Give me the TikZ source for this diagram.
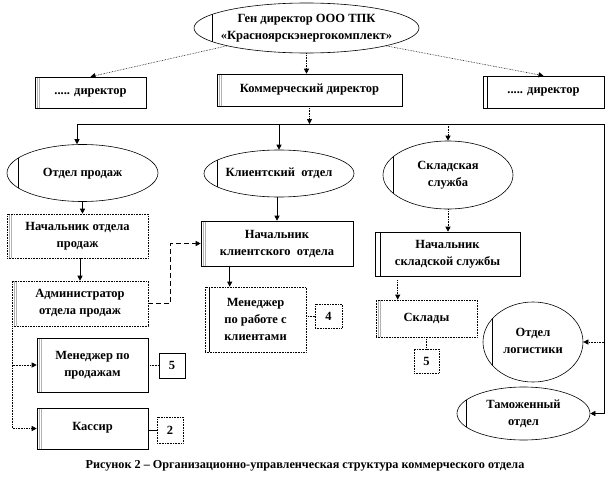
\documentclass[tikz,border=0pt]{standalone}
\usepackage{fontspec}
\setmainfont{Liberation Serif}
\usetikzlibrary{shapes.geometric,arrows.meta,calc}
\newcommand{\ctxt}[1]{\makebox[0pt]{\begin{tabular}{@{}c@{}}#1\end{tabular}}}
\begin{document}
\begin{tikzpicture}[x=1pt,y=-1pt,
  font=\fontsize{12.5}{17}\selectfont\bfseries,
  ln/.style={line width=0.6pt},
  arr/.style={ln,-{Triangle[length=5pt,width=5pt]}},
  dot/.style={densely dotted},
  box/.style={draw, line width=0.6pt, rectangle, inner sep=1pt, align=center},
  dbox/.style={box, densely dotted},
  bars/.style={path picture={\draw[solid, gray!60, line width=0.8pt]
     ([xshift=2.5pt]path picture bounding box.north west) -- ([xshift=2.5pt]path picture bounding box.south west)
     ([xshift=4.8pt]path picture bounding box.north west) -- ([xshift=4.8pt]path picture bounding box.south west);}},
  sbar/.style={path picture={\draw[solid, black, line width=0.7pt]
     ([xshift=#1]path picture bounding box.north west) -- ([xshift=#1]path picture bounding box.south west);}},
  el/.style={draw, ellipse, line width=0.6pt, inner sep=0pt},
  elbar/.style={path picture={\draw[solid, black, line width=0.7pt]
     ([xshift=#1]path picture bounding box.north west) -- ([xshift=#1]path picture bounding box.south west);}}
]
\fill[white] (0,0) rectangle (611,479);
\useasboundingbox (0,0) rectangle (611,479);

% top
\node[el, elbar=18pt, minimum width=225pt, minimum height=50pt] (gen) at (306.5,28) {\ctxt{Ген директор ООО ТПК\\«Красноярскэнергокомплект»}};
\node[box, bars, minimum width=111pt, minimum height=31pt] (d1) at (90.5,92.5) {..... директор};
\node[box, bars, minimum width=185pt, minimum height=32pt] (komm) at (309.5,90) {Коммерческий директор};
\node[box, sbar=4pt, minimum width=121pt, minimum height=32pt] (d2) at (543.5,92) {..... директор};

% departments
\node[el, elbar=11pt, minimum width=151pt, minimum height=57pt] (op) at (82.5,173) {\ctxt{Отдел продаж}};
\node[el, elbar=13pt, minimum width=150pt, minimum height=47pt] (ko) at (279,173.5) {\ctxt{Клиентский\ \ отдел}};
\node[el, elbar=10pt, minimum width=130pt, minimum height=68pt] (ss) at (448,175) {\ctxt{Складская\\служба}};

% boxes
\node[dbox, bars, minimum width=141pt, minimum height=44pt] (nop) at (77.5,236) {Начальник отдела\\продаж};
\node[dbox, bars, minimum width=136pt, minimum height=45pt] (adm) at (80,303.5) {Администратор\\отдела продаж};
\node[box, bars, minimum width=152pt, minimum height=45pt] (nko) at (277,243.5) {Начальник\\клиентского\ \ отдела};
\node[dbox, sbar=4pt, minimum width=101pt, minimum height=65pt] (mrk) at (255.5,319.5) {Менеджер\\по работе с\\клиентами};
\node[dbox, minimum width=27pt, minimum height=24pt] (b4) at (328.5,316) {4};
\node[box, sbar=5pt, minimum width=145pt, minimum height=44pt] (nss) at (447.5,254) {Начальник\\складской службы};
\node[dbox, bars, minimum width=101pt, minimum height=37pt] (skl) at (426.5,318.5) {Склады};
\node[dbox, minimum width=25pt, minimum height=24pt] (b5b) at (426.5,361) {5};
\node[el, elbar=9pt, minimum width=100pt, minimum height=80pt] (log) at (533,342) {\ctxt{Отдел\\логистики}};
\node[el, elbar=9pt, minimum width=133pt, minimum height=53pt] (tam) at (523.5,413.5) {\ctxt{Таможенный\\отдел}};
\node[box, bars, minimum width=111pt, minimum height=54pt] (mpp) at (92.5,365) {Менеджер по\\продажам};
\node[box, minimum width=26pt, minimum height=25pt] (b5a) at (172,365.5) {5};
\node[box, bars, minimum width=111pt, minimum height=41pt] (kas) at (92.5,428.5) {\raisebox{4pt}{Кассир}};
\node[dbox, minimum width=26pt, minimum height=26pt] (b2) at (170,430) {2};

\node[font=\fontsize{12.2}{14}\selectfont\bfseries] (cap) at (305,466) {Рисунок 2 – Организационно-управленческая структура коммерческого отдела};

% connectors
\coordinate (hl) at (77,124);
\coordinate (hr) at (604,124);
\draw[arr,dot] (gen.south west) -- (d1.north);
\draw[arr,dot] (gen.south east) -- (d2.north);
\draw[arr,dot] (gen.south) -- (gen.south |- komm.north);
\draw[arr,dot] (komm.south) -- (komm.south |- hl);
\draw[arr] (hl) -- (hr) |- (tam.east);
\draw[arr,dot] (log.east -| hr) -- (log.east);
\draw[arr] (hl) -- (hl |- op.north);
\draw[arr] (ko.north |- hl) -- (ko.north);
\draw[arr,dot] (ss.north |- hl) -- (ss.north);
\draw[arr] (op.south) -- (op.south |- nop.north);
\draw[arr] (adm.north |- nop.south) -- (adm.north);
\draw[arr,dash pattern=on 5pt off 3pt] (adm.east) -- ++(22,0) |- (nko.west);
\draw[arr] (nko.north |- ko.south) -- (nko.north);
\coordinate (mt) at ($(mrk.north west)+(25,0)$);
\draw[arr] (mt |- nko.south) -- (mt);
\draw[ln,dot] (b4.west -| mrk.east) -- (b4.west);
\draw[arr,dot] (ss.south) -- (ss.south |- nss.north);
\coordinate (st) at ($(skl.north west)+(22,0)$);
\draw[arr,dot] ($(st |- nss.south)+(0,4)$) -- (st);
\draw[ln,dot] (skl.south) -- (b5b.north);
\coordinate (al) at ($(adm.south west)+(1,0)$);
\draw[arr,dot] (al) |- (mpp.west);
\draw[arr,dot] (al) |- (kas.west);
\draw[ln,dot] (b5a.west -| mpp.east) -- (b5a.west);
\draw[ln] (b2.west -| kas.east) -- (b2.west);
\end{tikzpicture}
\end{document}
